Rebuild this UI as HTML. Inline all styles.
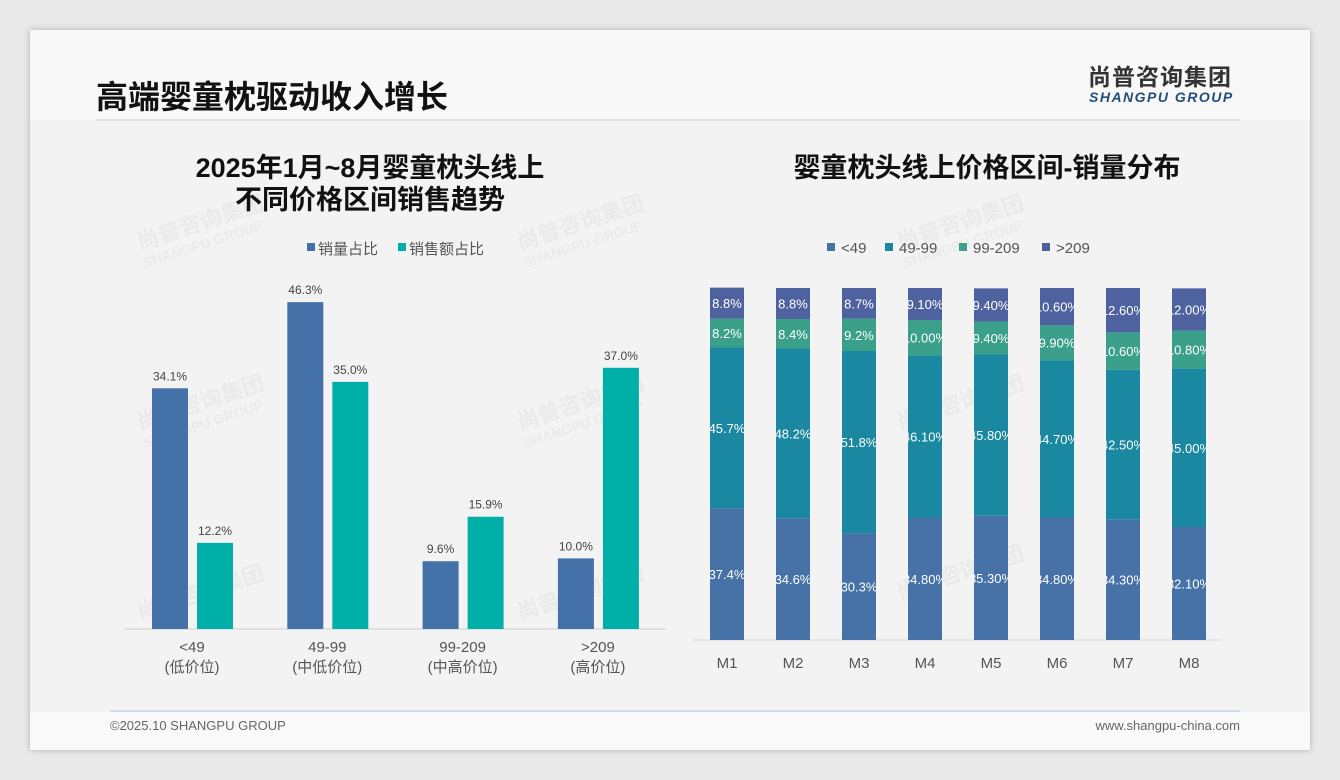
<!DOCTYPE html>
<html><head><meta charset="utf-8">
<style>
body{margin:0;width:1340px;height:780px;background:#e9e9e9;overflow:hidden;font-family:"Liberation Sans","Noto Sans CJK SC",sans-serif;}
#slide{position:absolute;left:30px;top:30px;width:1280px;height:720px;background:#f3f3f3;box-shadow:0 0 6px rgba(0,0,0,.25);}
svg text{font-family:"Liberation Sans","Noto Sans CJK SC",sans-serif;}
</style></head><body>
<div id="slide"></div>
<svg id="chart" width="1340" height="780" style="position:absolute;left:0;top:0">
<rect x="30" y="30" width="1280" height="90" fill="#f8f8f8"/>
<rect x="30" y="712" width="1280" height="38" fill="#f9f9f9"/>
<g fill="#cfcfcf" opacity="0.25" font-weight="bold">
<text x="140" y="250" font-size="22" transform="rotate(-18 140 250)">尚普咨询集团</text>
<text x="145" y="268" font-size="14" transform="rotate(-18 145 268)">SHANGPU GROUP</text>
<text x="520" y="250" font-size="22" transform="rotate(-18 520 250)">尚普咨询集团</text>
<text x="525" y="268" font-size="14" transform="rotate(-18 525 268)">SHANGPU GROUP</text>
<text x="900" y="250" font-size="22" transform="rotate(-18 900 250)">尚普咨询集团</text>
<text x="905" y="268" font-size="14" transform="rotate(-18 905 268)">SHANGPU GROUP</text>
<text x="140" y="430" font-size="22" transform="rotate(-18 140 430)">尚普咨询集团</text>
<text x="145" y="448" font-size="14" transform="rotate(-18 145 448)">SHANGPU GROUP</text>
<text x="520" y="430" font-size="22" transform="rotate(-18 520 430)">尚普咨询集团</text>
<text x="525" y="448" font-size="14" transform="rotate(-18 525 448)">SHANGPU GROUP</text>
<text x="900" y="430" font-size="22" transform="rotate(-18 900 430)">尚普咨询集团</text>
<text x="140" y="620" font-size="22" transform="rotate(-18 140 620)">尚普咨询集团</text>
<text x="520" y="620" font-size="22" transform="rotate(-18 520 620)">尚普咨询集团</text>
<text x="900" y="600" font-size="22" transform="rotate(-18 900 600)">尚普咨询集团</text>
</g>
<text x="96" y="108" font-size="32" font-weight="bold" fill="#111">高端婴童枕驱动收入增长</text>
<text x="1088" y="85" font-size="23" font-weight="bold" fill="#333" letter-spacing="1">尚普咨询集团</text>
<text x="1089" y="102" font-size="14" font-weight="bold" font-style="italic" fill="#1f4e79" letter-spacing="1.5">SHANGPU GROUP</text>
<line x1="96" y1="120" x2="1240" y2="120" stroke="#dcdcdc" stroke-width="1.5"/>
<text x="370" y="177" font-size="27" font-weight="bold" fill="#111" text-anchor="middle">2025年1月~8月婴童枕头线上</text>
<text x="370" y="209" font-size="27" font-weight="bold" fill="#111" text-anchor="middle">不同价格区间销售趋势</text>
<text x="987" y="177" font-size="27" font-weight="bold" fill="#111" text-anchor="middle">婴童枕头线上价格区间-销量分布</text>
<g id="left"></g>
<g id="right"></g>
<line x1="110" y1="711" x2="1240" y2="711" stroke="#a9c4e0" stroke-width="1"/>
<text x="110" y="730" font-size="13" fill="#666">©2025.10 SHANGPU GROUP</text>
<text x="1240" y="730" font-size="13" fill="#666" text-anchor="end">www.shangpu-china.com</text>
</svg>
<script>
const leftCats=["<49","49-99","99-209",">209"];
const leftSub=["(低价位)","(中低价位)","(中高价位)","(高价位)"];
const volShare=[34.1,46.3,9.6,10.0];
const salesShare=[12.2,35.0,15.9,37.0];
const leftSeriesNames=["销量占比","销售额占比"];

const months=["M1","M2","M3","M4","M5","M6","M7","M8"];
const rightSeriesNames=["<49","49-99","99-209",">209"];
const sLow=[37.4,34.6,30.3,34.8,35.3,34.8,34.3,32.1];
const sMid=[45.7,48.2,51.8,46.1,45.8,44.7,42.5,45.0];
const sHigh=[8.2,8.4,9.2,10.0,9.4,9.9,10.6,10.8];
const sTop=[8.8,8.8,8.7,9.1,9.4,10.6,12.6,12.0];
const lowLbl=["37.4%","34.6%","30.3%","34.80%","35.30%","34.80%","34.30%","32.10%"];
const midLbl=["45.7%","48.2%","51.8%","46.10%","45.80%","44.70%","42.50%","45.00%"];
const highLbl=["8.2%","8.4%","9.2%","10.00%","9.40%","9.90%","10.60%","10.80%"];
const topLbl=["8.8%","8.8%","8.7%","9.10%","9.40%","10.60%","12.60%","12.00%"];

const NS="http://www.w3.org/2000/svg";
function mk(tag,attrs,parent,txt){const e=document.createElementNS(NS,tag);for(const k in attrs)e.setAttribute(k,attrs[k]);if(txt!==undefined)e.textContent=txt;parent.appendChild(e);return e;}

const L=document.getElementById('left');
const lBase=629, lScale=7.06;
const lx=i=>192+i*135.3;
const ly=v=>lBase-v*lScale;
const lColors=["#4472a8","#00b0a8"];
const ax=mk('line',{x1:124,y1:lBase,x2:666,y2:lBase,stroke:'#cfcfcf'},L);


[volShare,salesShare].forEach((arr,s)=>{
  arr.forEach((v,i)=>{
    const x=lx(i)+(s===0?-40:5);
    const r=mk('rect',{x:x,y:ly(v),width:36,height:lBase-ly(v),fill:lColors[s]},L);
    
    
    const t=mk('text',{x:x+18,y:ly(v)-8,'font-size':12,fill:'#444','text-anchor':'middle'},L,v.toFixed(1)+'%');
    
    
  });
});
leftCats.forEach((c,i)=>{
  const t=mk('text',{x:lx(i),y:652,'font-size':15,fill:'#555','text-anchor':'middle'},L,c);
  
  
  const t2=mk('text',{x:lx(i),y:672,'font-size':15,fill:'#555','text-anchor':'middle'},L,leftSub[i]);
  
  
});
[[307,leftSeriesNames[0]],[398,leftSeriesNames[1]]].forEach((p,s)=>{
  const g=mk('g',{},L);
  
  
  mk('rect',{x:p[0],y:243,width:8,height:8,fill:lColors[s]},g);
  mk('text',{x:p[0]+11,y:254,'font-size':15,fill:'#555'},g,p[1]);
});

const R=document.getElementById('right');
const rBase=640, rScale=3.52;
const rx=i=>727+i*66;
const rColors=["#4672a8","#1a88a0","#3aa08a","#4e62a0"];
const ax2=mk('line',{x1:693,y1:rBase,x2:1222,y2:rBase,stroke:'#d5d5d5'},R);


const defs=mk('defs',{},R);
const series=[sLow,sMid,sHigh,sTop];
const labels=[lowLbl,midLbl,highLbl,topLbl];
months.forEach((m,i)=>{
  const cp=mk('clipPath',{id:'cp'+i},defs);
  mk('rect',{x:rx(i)-17,y:0,width:34,height:780},cp);
  let acc=0;
  series.forEach((arr,s)=>{
    const v=arr[i];
    const y0=rBase-acc*rScale, y1=rBase-(acc+v)*rScale;
    const r=mk('rect',{x:rx(i)-17,y:y1,width:34,height:y0-y1,fill:rColors[s]},R);
    
    
    const t=mk('text',{x:rx(i),y:(y0+y1)/2+5,'font-size':13,fill:'#fff','text-anchor':'middle','clip-path':'url(#cp'+i+')'},R,labels[s][i]);
    
    
    acc+=v;
  });
  const t=mk('text',{x:rx(i),y:668,'font-size':15,fill:'#555','text-anchor':'middle'},R,m);
  
  
});
[[827,0],[885,1],[959,2],[1042,3]].forEach(p=>{
  const g=mk('g',{},R);
  
  
  mk('rect',{x:p[0],y:243,width:8,height:8,fill:rColors[p[1]]},g);
  mk('text',{x:p[0]+14,y:253,'font-size':15,fill:'#555'},g,rightSeriesNames[p[1]]);
});
</script>
</body></html>
